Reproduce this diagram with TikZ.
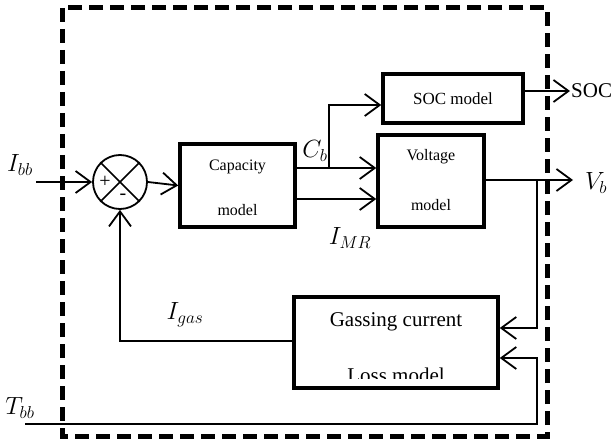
\documentclass[tikz,border=0pt]{standalone}
\usepackage{fontspec}
\setmainfont{Liberation Serif}
\usetikzlibrary{arrows.meta}
\begin{document}
\begin{tikzpicture}[x=1pt,y=-1pt,
  blk/.style={draw,line width=3.5pt,inner sep=0pt},
  conn/.style={line width=1.8pt},
  arr/.style={conn,-{Straight Barb[length=15pt,width=22pt,line width=1.8pt]}},
  lbl/.style={font=\fontsize{23}{26}\selectfont,inner sep=0pt},
  txt/.style={inner sep=0pt}]
\useasboundingbox (0,0) rectangle (613,441);

% dashed boundary of the battery model
\draw[line width=5pt,dash pattern=on 14pt off 7pt] (62,8) rectangle (547,436);

% summing junction
\node[draw,circle,line width=1.8pt,minimum size=54pt,inner sep=0pt] (sum) at (120,182) {};
\draw[line width=1.5pt] (sum.north west) -- (sum.south east) (sum.north east) -- (sum.south west);
\node[txt,font=\fontsize{20}{20}\selectfont] (plus) at (105,182) {+};
\node[txt,font=\fontsize{20}{20}\selectfont] (minus) at (123,197) {-};

% blocks
\node[blk,minimum width=115pt,minimum height=83pt] (cap) at (237.5,185.5) {};
\node[txt,font=\fontsize{16}{16}\selectfont] (captxt1) at (237.5,167) {Capacity};
\node[txt,font=\fontsize{16}{16}\selectfont] (captxt2) at (237.5,210) {model};

\node[blk,minimum width=106pt,minimum height=92pt] (vol) at (431,181) {};
\node[txt,font=\fontsize{16}{16}\selectfont] (voltxt1) at (431,157) {Voltage};
\node[txt,font=\fontsize{16}{16}\selectfont] (voltxt2) at (431,205) {model};

\node[blk,minimum width=140pt,minimum height=49pt,font=\fontsize{17}{17}\selectfont] (soc) at (453,98.5) {SOC model};

% second line of the gassing block runs into its lower edge
\begin{scope}
  \clip (294,297) rectangle (498,378);
  \node[txt,font=\fontsize{21}{21}\selectfont,anchor=base] (gastxt2) at (396,382) {Loss model};
\end{scope}
\node[blk,minimum width=204pt,minimum height=91pt] (gas) at (396,342.5) {};
\node[txt,font=\fontsize{21}{21}\selectfont] (gastxt1) at (396,322) {Gassing current};

% input current
\node[lbl] (ibb) at (20,165) {$I_{bb}$};
\coordinate (inp) at (36,182);
\draw[arr] (inp) -- (sum.west);
\draw[arr] (sum.east) -- (cap.west);

% capacity to voltage model
\draw[arr] (cap.east |- 0,168) -- (vol.west |- 0,168);
\draw[arr] (cap.east |- 0,199) -- (vol.west |- 0,199);
\node[lbl] (cb) at (315,151) {$C_b$};
\node[lbl] (imr) at (350,238) {$I_{MR}$};

% branch to SOC model
\coordinate (cbsplit) at (329,168);
\coordinate (cbup) at (329,105);
\draw[arr] (cbsplit) -- (cbup) -- (soc.west |- cbup);

% SOC output
\coordinate (socout) at (570,91);
\draw[arr] (soc.east |- socout) -- (socout);
\node[txt,font=\fontsize{21}{21}\selectfont,anchor=west] (soclbl) at (571,91) {SOC};

% terminal voltage output
\coordinate (vbout) at (573,180);
\draw[arr] (vol.east |- vbout) -- (vbout);
\node[lbl] (vb) at (596,183) {$V_b$};

% voltage fed back to gassing model
\coordinate (fbtop) at (537,180);
\coordinate (fbbot) at (537,328);
\draw[arr] (fbtop) -- (fbbot) -- (gas.east |- fbbot);

% temperature input
\node[lbl] (tbb) at (20,408) {$T_{bb}$};
\coordinate (tin) at (25,424);
\coordinate (tcorner) at (537,424);
\coordinate (tup) at (537,358);
\draw[arr] (tin) -- (tcorner) -- (tup) -- (gas.east |- tup);

% gassing current fed back to junction
\coordinate (gasleft) at (120,341);
\draw[arr] (gas.west |- gasleft) -- (gasleft) -- (sum.south);
\node[lbl] (igas) at (185,315) {$I_{gas}$};
\end{tikzpicture}
\end{document}
